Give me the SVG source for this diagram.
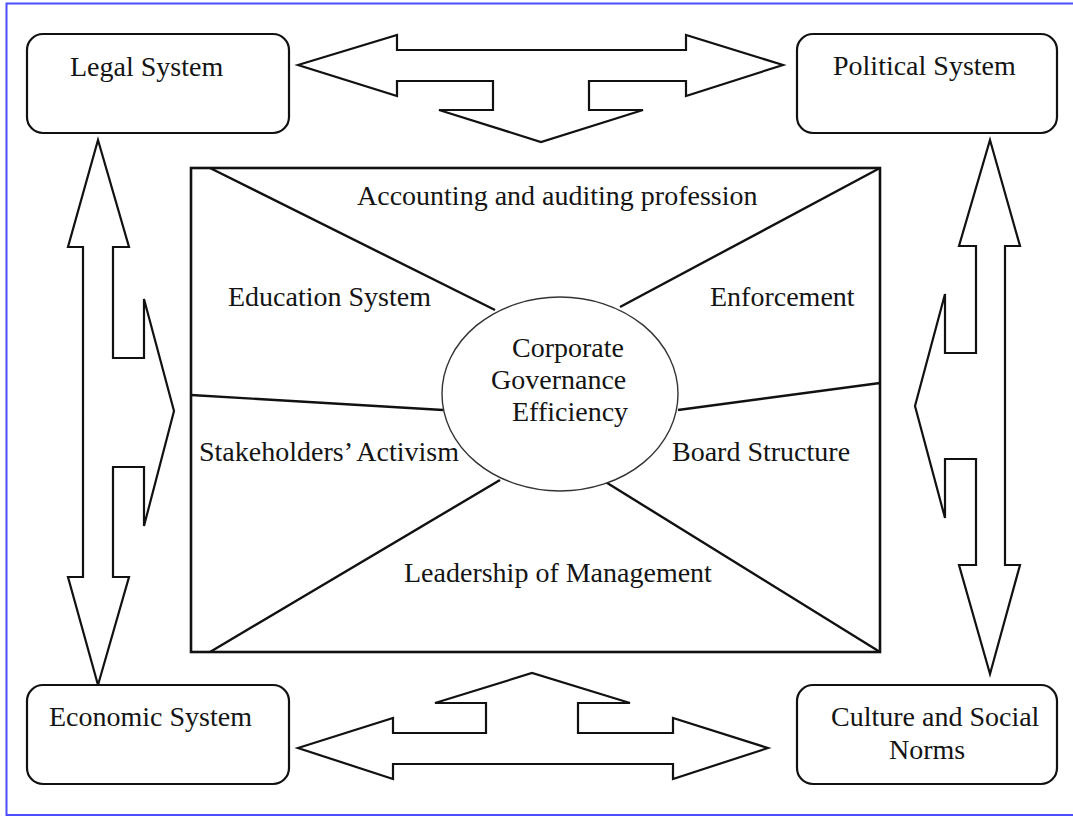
<svg xmlns="http://www.w3.org/2000/svg" width="1073" height="816" viewBox="0 0 1073 816">
  <style>
    .box { fill: #fff; stroke: #111; stroke-width: 2.2; }
    .arrow { fill: #fff; stroke: #111; stroke-width: 2.2; stroke-linejoin: miter; }
    .frame { fill: #fff; stroke: #111; stroke-width: 2.6; }
    .divider { stroke: #111; stroke-width: 2.4; fill: none; }
    .hub { fill: #fff; stroke: #333; stroke-width: 1.4; }
    .label { font-size: 28px; fill: #141414; }
  </style>

  <!-- page background and outer border -->
  <rect x="0" y="0" width="1073" height="816" fill="#fff"/>
  <path d="M1073 3.5 H6.5 V815 H1073" fill="none" stroke="#4d4dff" stroke-width="2"/>

  <!-- connectors: block arrows between the outer systems -->
  <g id="connectors">
    <polygon id="arrow-top" class="arrow" points="298,65 397,35 397,50 686,50 686,35 783,65 686,96 686,81 589,81 589,110 643,110 541,142 439,110 493,110 493,81 397,81 397,96"/>
    <polygon id="arrow-bottom" class="arrow" points="298,748 393,718 393,733 486,733 486,703 435,703 532,673 630,703 578,703 578,733 673,733 673,718 768,748 673,779 673,764 393,764 393,779"/>
    <polygon id="arrow-left" class="arrow" points="98,140 129,247 113,247 113,358 144,358 144,299 174,411 144,526 144,467 113,467 113,577 129,577 98,685 68,577 83,577 83,247 68,247"/>
    <polygon id="arrow-right" class="arrow" points="990,140 1020,246 1005,246 1005,565 1020,565 990,674 959,565 976,565 976,459 945,459 945,518 915,406 945,294 945,353 976,353 976,246 959,246"/>
  </g>

  <g font-family="'Liberation Serif', 'Times New Roman', 'DejaVu Serif', serif">
    <!-- outer system boxes -->
    <g id="legal-system">
      <rect class="box" x="27" y="34" width="262" height="99" rx="16"/>
      <text class="label" x="70" y="76">Legal System</text>
    </g>
    <g id="political-system">
      <rect class="box" x="797" y="34" width="260" height="99" rx="16"/>
      <text class="label" x="833" y="75">Political System</text>
    </g>
    <g id="economic-system">
      <rect class="box" x="27" y="685" width="262" height="99" rx="16"/>
      <text class="label" x="49" y="726">Economic System</text>
    </g>
    <g id="culture-social-norms">
      <rect class="box" x="797" y="685" width="260" height="99" rx="16"/>
      <text class="label" x="831" y="726">Culture and Social</text>
      <text class="label" x="889" y="759">Norms</text>
    </g>

    <!-- central panel with its segments -->
    <g id="governance-panel">
      <rect class="frame" x="191" y="168" width="689" height="484"/>
      <g class="dividers">
        <line class="divider" x1="210" y1="168" x2="495" y2="310"/>
        <line class="divider" x1="880" y1="168" x2="620" y2="307"/>
        <line class="divider" x1="191" y1="395" x2="443" y2="410"/>
        <line class="divider" x1="880" y1="383" x2="678" y2="410"/>
        <line class="divider" x1="210" y1="652" x2="500" y2="480"/>
        <line class="divider" x1="880" y1="652" x2="604" y2="481"/>
      </g>
      <text class="label" x="357" y="205">Accounting and auditing profession</text>
      <text class="label" x="228" y="306">Education System</text>
      <text class="label" x="710" y="306">Enforcement</text>
      <text class="label" x="199" y="461">Stakeholders’ Activism</text>
      <text class="label" x="672" y="461">Board Structure</text>
      <text class="label" x="404" y="582">Leadership of Management</text>
    </g>

    <!-- hub -->
    <g id="corporate-governance-efficiency">
      <ellipse class="hub" cx="560" cy="394" rx="118" ry="97"/>
      <text class="label" x="512" y="357">Corporate</text>
      <text class="label" x="491" y="389">Governance</text>
      <text class="label" x="512" y="421">Efficiency</text>
    </g>
  </g>
</svg>
